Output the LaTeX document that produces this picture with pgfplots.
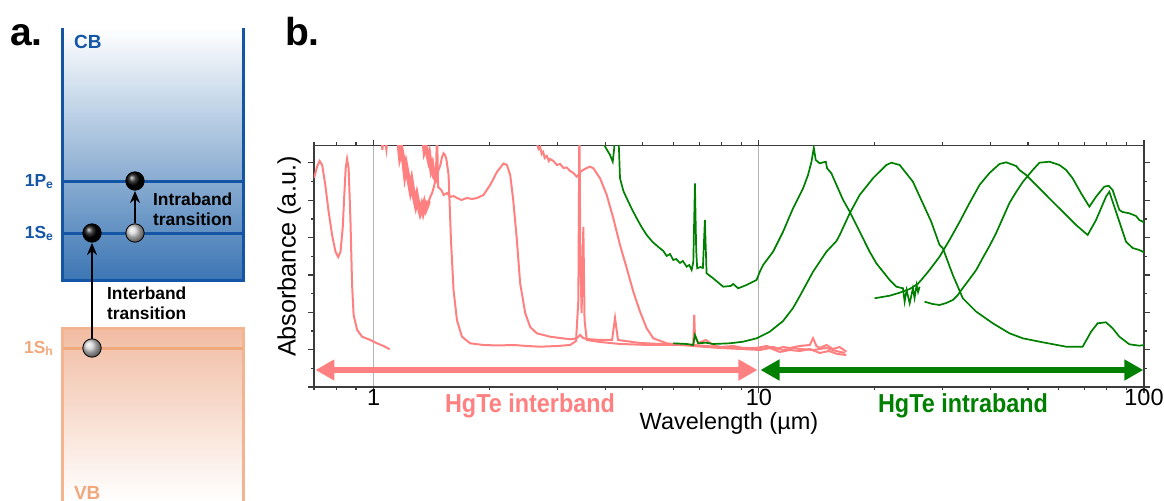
\documentclass[border=0pt]{standalone}
\usepackage{fontspec}
\setmainfont{Liberation Sans}
\newfontfamily\narrowfont[FakeStretch=0.9]{Liberation Sans}
\usepackage{pgfplots}
\pgfplotsset{compat=1.18}
\usetikzlibrary{arrows.meta}
\definecolor{pinkc}{RGB}{255,128,128}
\definecolor{greenc}{RGB}{0,128,0}
\definecolor{cbline}{RGB}{20,85,165}
\definecolor{cbbot}{RGB}{60,118,180}
\definecolor{vbline}{RGB}{242,180,145}
\definecolor{vbtop}{RGB}{241,188,162}
\definecolor{vbmid}{RGB}{242,196,174}
\definecolor{vbtext}{RGB}{240,168,125}
\definecolor{axgray}{RGB}{60,60,60}
\begin{document}
\begin{tikzpicture}
\path[use as bounding box] (0,0) rectangle (582pt,-250.5pt);
% ---------------- panel a ----------------
\begin{axis}[at={(0pt,-250.5pt)}, anchor=south west, scale only axis,
  width=130pt, height=250.5pt, xmin=0, xmax=260, ymin=0, ymax=501,
  y dir=reverse, hide axis, clip=false]
\addplot[draw=none, top color=white, bottom color=cbbot] coordinates {(62,28)(243,28)(243,280)(62,280)} -- cycle;
\addplot[draw=none, top color=vbtop, middle color=vbmid, bottom color=white] coordinates {(62,328)(243,328)(243,501)(62,501)} -- cycle;
\addplot[cbline, line width=1.5pt] coordinates {(62.5,28)(62.5,280)(243,280)(243,28)};
\addplot[cbline, line width=1.5pt] coordinates {(62.5,181)(243,181)};
\addplot[cbline, line width=1.5pt] coordinates {(62.5,233)(243,233)};
\addplot[vbline, line width=1.5pt] coordinates {(62.5,501)(62.5,328)(243,328)(243,501)};
\addplot[vbtext, line width=1.5pt] coordinates {(62.5,348)(243,348)};
\addplot[black, line width=1pt, -{Stealth[length=6pt,width=5pt]}] coordinates {(92,339)(92,243)};
\addplot[black, line width=1pt, -{Stealth[length=6pt,width=5pt]}] coordinates {(135,223)(135,191)};
\addplot[only marks, mark=ball, mark size=4.6pt, ball color=black, mark options={ball color=black}] coordinates {(92,233)(135,181)};
\addplot[only marks, mark=ball, mark size=4.6pt, ball color=gray!35, mark options={ball color=gray!35}] coordinates {(135,233)(92,348)};
\node[anchor=base west, text=cbline, font=\fontsize{9.5}{10}\selectfont\bfseries] at (axis cs:67,48) {CB};
\node[anchor=base east, text=cbline, font=\fontsize{8.7}{10}\selectfont\bfseries] at (axis cs:61,186) {1P\textsubscript{e}};
\node[anchor=base east, text=cbline, font=\fontsize{8.7}{10}\selectfont\bfseries] at (axis cs:61,238) {1S\textsubscript{e}};
\node[anchor=base east, text=vbtext, font=\fontsize{8.7}{10}\selectfont\bfseries] at (axis cs:61,353) {1S\textsubscript{h}};
\node[anchor=base west, text=vbtext, font=\fontsize{9.5}{10}\selectfont\bfseries] at (axis cs:67,499) {VB};
\node[anchor=base west, font=\fontsize{8.7}{10}\selectfont\bfseries] at (axis cs:146,205) {Intraband};
\node[anchor=base west, font=\fontsize{8.7}{10}\selectfont\bfseries] at (axis cs:146,225) {transition};
\node[anchor=base west, font=\fontsize{8.7}{10}\selectfont\bfseries] at (axis cs:100,299) {Interband};
\node[anchor=base west, font=\fontsize{8.7}{10}\selectfont\bfseries] at (axis cs:100,319) {transition};
\end{axis}
% ---------------- panel b ----------------
\begin{axis}[at={(157pt,-193.5pt)}, anchor=south west, scale only axis,
  width=415pt, height=120.65pt,
  xmode=log, xmin=0.7, xmax=100, ymin=0, ymax=241.3,
  xtick={1,10,100}, xticklabels={1,10,100},
  minor xtick={0.7,0.8,0.9,2,3,4,5,6,7,8,9,20,30,40,50,60,70,80,90},
  ytick={0,37.35,74.7,112.05,149.4,186.75,224.1}, yticklabels={},
  minor ytick={18.675,56.025,93.375,130.725,168.075,205.425},
  tick align=outside, major tick length=3pt, minor tick length=1.6pt,
  axis line style={axgray, line width=0.75pt},
  every tick/.style={axgray, line width=0.6pt},
  xmajorgrids, major grid style={gray!60, line width=0.6pt},
  xticklabel style={font=\fontsize{11.75}{14}\selectfont, inner sep=0.5pt, yshift=2.6pt},
  xlabel={Wavelength (µm)}, ylabel={Absorbance (a.u.)},
  xlabel style={font=\fontsize{11.75}{14}\selectfont, at={(axis description cs:0.5,-0.152)}, anchor=center},
  ylabel style={font=\fontsize{12.6}{14}\selectfont, at={(axis description cs:-0.030,0.54)}, anchor=center, rotate=0},
]
% pink interband spectra
\addplot[pinkc, line width=1pt] coordinates {(0.700,209)(0.713,220.3)(0.724,226)(0.735,222)(0.749,202)(0.764,175.3)(0.780,152)(0.796,135.3)(0.809,130)(0.820,135.3)(0.831,159)(0.839,192)(0.846,218.7)(0.853,228)(0.861,218.7)(0.870,169)(0.879,102)(0.887,72)(0.906,57)(0.933,50.3)(0.980,47)(1.020,43.7)(1.061,41)(1.100,37.7)};
\addplot[pinkc, line width=1pt] coordinates {(1.047,257)(1.053,237)(1.063,252)(1.079,237)(1.088,257)(1.145,267)(1.161,245)(1.170,232)(1.180,238)(1.196,225)(1.205,214)(1.214,221)(1.232,208)(1.245,198)(1.255,205)(1.270,192)(1.285,183)(1.295,190)(1.308,181)(1.320,175)(1.333,181)(1.343,176)(1.355,183)(1.366,178)(1.376,181)(1.390,186)(1.403,190)(1.418,194)(1.431,199)(1.454,211)(1.474,217)(1.490,222)(1.505,230)(1.519,233.7)(1.531,232)(1.544,228)(1.565,212)(1.5875,147)(1.612,97)(1.645,67)(1.695,50.3)(1.781,43.7)(1.928,42)(2.1,41.5)(2.307,42)(2.5,41)(2.705,40.3)(3.0,41)(3.236,42)(3.353,46)(3.400,87)(3.421,267)(3.439,137)(3.466,74)(3.503,160)(3.528,67)(3.575,47)(3.871,45)(4.361,43)(5.217,42)(6.241,42)(6.757,42)(6.797,72)(6.825,52)(6.959,44)(7.287,47)(7.612,42)(7.923,40)(8.6,41)(9.106,39)(9.865,39)(10.47,41)(11.12,38)(11.56,40)(12.03,39)(12.78,41)(13.56,42)(13.83,48.7)(14.11,41)(14.39,39)(14.98,42)(15.58,38)(16.2,40)(16.88,35.3)};
% noisy thick band of the same spectrum
\addplot[pinkc, line width=2.2pt] coordinates {(1.161,245)(1.170,232)(1.180,238)(1.196,225)(1.205,214)(1.214,221)(1.232,208)(1.245,198)(1.255,205)(1.270,192)(1.285,183)(1.295,190)(1.308,181)(1.320,175)(1.333,181)(1.343,176)(1.355,183)(1.366,178)(1.376,181)(1.390,186)};
\addplot[pinkc, line width=1pt] coordinates {(1.322,257)(1.348,245)(1.355,236)(1.366,240)(1.387,228)(1.395,232)(1.410,218)(1.420,222)(1.435,210)(1.450,207)(1.4606,257)(1.470,200)(1.4985,197)(1.520,192)(1.550,194)(1.58,190)(1.612,191)(1.645,189)(1.69,187)(1.746,189)(1.80,188)(1.854,189)(1.928,192)(2.007,202)(2.089,215)(2.173,223.5)(2.218,222)(2.262,212)(2.303,187)(2.354,147)(2.400,104)(2.474,74)(2.549,60)(2.652,53.7)(2.871,50.3)(3.236,47.7)(3.367,48.7)(3.435,52)(3.497,49)(3.575,48)(3.871,47)(4.158,47)(4.233,69)(4.309,47)(4.915,44)(5.537,43)(6.757,42)(7.923,40)(8.8,39)(10.06,38)(10.9,40)(11.56,37)(12.27,39)(12.78,38)(13.83,37)(14.98,39)(15.9,36)(16.71,34)};
\addplot[pinkc, line width=2pt] coordinates {(1.348,245)(1.355,236)(1.366,240)(1.387,228)(1.395,232)(1.410,218)(1.420,222)(1.435,210)(1.450,207)};
\addplot[pinkc, line width=1pt] coordinates {(2.626,257)(2.652,243.7)(2.68,238)(2.705,240)(2.73,233)(2.754,235)(2.78,229)(2.8155,231)(2.85,226)(2.871,228)(2.9285,226)(2.99,222)(3.048,223)(3.11,219)(3.172,219.5)(3.236,216)(3.300,214)(3.367,210.3)(3.400,212)(3.435,215)(3.497,217)(3.575,219)(3.646,220.3)(3.719,218.7)(3.871,208.7)(4.028,192)(4.190,168.7)(4.361,142)(4.540,118.7)(4.722,95.3)(4.915,75.3)(5.115,58.7)(5.321,48.7)(5.764,43.7)(6.241,42)(6.757,41)(7.923,39)(9.0,38)(10.06,37)(10.68,39)(11.34,35)(12.03,37)(12.78,36)(13.56,38)(14.39,34)(15.2,36)(16.0,33)(16.88,32)};
% green intraband spectra
\addplot[greenc, line width=0.85pt] coordinates {(3.894,257)(3.947,243.7)(4.036,237)(4.109,232)(4.175,225.3)(4.208,237)(4.233,252)(4.271,287)(4.317,252)(4.335,237)(4.361,208.7)(4.45,196)(4.540,188.7)(4.68,178)(4.819,168.7)(4.96,160)(5.115,152)(5.3,145)(5.537,138.7)(5.65,136)(5.764,131)(5.88,133)(5.996,127)(6.1,128)(6.241,124)(6.35,126)(6.496,120.3)(6.6,122)(6.692,117)(6.76,125)(6.825,203.7)(6.877,137)(6.918,118.7)(7.05,120)(7.158,119)(7.244,167)(7.318,113.7)(7.612,108.7)(8.080,100.3)(8.45,101)(8.579,103)(8.838,98.7)(9.293,102)(9.865,107)(10.06,115.3)(10.26,122)(10.89,135.3)(11.56,155.3)(12.27,178.7)(13.03,198.7)(13.42,212)(13.70,225.3)(13.89,239.3)(14.05,227)(14.39,223.7)(14.92,225.3)(15.04,218.7)(15.43,213.7)(15.91,202)(16.55,187)(17.22,175.3)(17.92,162)(18.64,148.7)(19.40,135.3)(20.19,123.7)(21.01,115.3)(21.86,107)(22.75,100.3)(23.67,98.7)(23.91,85.3)(24.19,97)(24.64,83.7)(25.12,98.7)(25.37,89)(25.68,102)(25.91,95)(26.15,100.3)};
\addplot[greenc, line width=0.85pt] coordinates {(5.996,43.7)(6.496,43)(6.757,42)(6.825,52)(6.959,43.7)(7.287,44.3)(7.612,43)(8.410,43.7)(9.106,45.3)(9.865,48.7)(10.68,55.3)(11.56,66)(12.27,79)(12.78,91)(13.83,115.3)(14.98,135.3)(15.91,146)(16.22,152)(17.22,173.7)(18.27,192)(19.79,208.7)(21.43,222)(22.09,224.3)(23.21,222)(25.12,205.3)(26.41,187)(28.03,165.3)(29.46,142)(30.05,138.7)(31.89,112)(33.86,88.7)(36.68,75.3)(40.50,63.7)(44.74,53.7)(48.45,48.7)(54.59,44.7)(62.77,40.3)(69.31,40.3)(72.89,55.3)(75.82,63.7)(79.70,64.7)(82.90,58.7)(86.30,50.3)(91.61,42.7)(97.23,41.3)(100,42)};
\addplot[greenc, line width=0.85pt] coordinates {(19.98,88.7)(21.86,91.3)(23.21,94.3)(24.64,98)(25.84,103)(26.41,107)(27.75,117)(29.46,130.3)(31.27,147)(33.20,165)(35.25,184)(37.41,202)(39.71,214)(42.15,223)(43.85,224.7)(46.56,221)(47.50,217)(49.44,212)(52.48,202)(57.94,185.3)(62.77,172)(66.63,162)(71.42,152)(75.09,167)(79.70,190.3)(81.28,195.3)(83.75,180.3)(86.30,165.3)(89.81,145.3)(93.41,139)(97.23,137)(100,134.7)};
\addplot[greenc, line width=0.85pt] coordinates {(26.94,85.3)(28.25,83)(29.46,82)(30.66,84)(31.89,87)(32.86,92)(33.86,99)(35.25,108)(36.68,117)(38.14,129)(39.71,141)(41.33,154)(43.00,169)(44.74,184)(46.56,195)(48.45,205)(49.9,211)(51.43,217)(53.53,224.3)(56.82,225.3)(60.31,222)(62.77,217)(65.29,208.7)(68.66,193.7)(72.15,180.3)(75.09,190.3)(78.89,200.3)(80.94,201.3)(82.90,197)(86.30,177)(88.01,175)(91.61,173.7)(95.35,171)(97.23,167)(100,164.7)};
% range arrows
\addplot[pinkc, line width=2.6pt, {Triangle[length=9.5pt,width=10pt]}-{Triangle[length=9.5pt,width=10pt]}] coordinates {(0.706,17)(9.92,17)};
\addplot[greenc, line width=2.6pt, {Triangle[length=9.5pt,width=10pt]}-{Triangle[length=9.5pt,width=10pt]}] coordinates {(10.1,17)(99.6,17)};
\end{axis}
\node[anchor=base, text=pinkc, font=\narrowfont\bfseries\fontsize{13}{14}\selectfont] at (265pt,-206.5pt) {HgTe interband};
\node[anchor=base, text=greenc, font=\narrowfont\bfseries\fontsize{13}{14}\selectfont] at (481.5pt,-206.5pt) {HgTe intraband};
\node[anchor=base west, font=\bfseries\fontsize{19.5}{20}\selectfont] at (1.5pt,-23pt) {a.};
\node[anchor=base west, font=\bfseries\fontsize{19.5}{20}\selectfont] at (139pt,-23pt) {b.};
\end{tikzpicture}
\end{document}
